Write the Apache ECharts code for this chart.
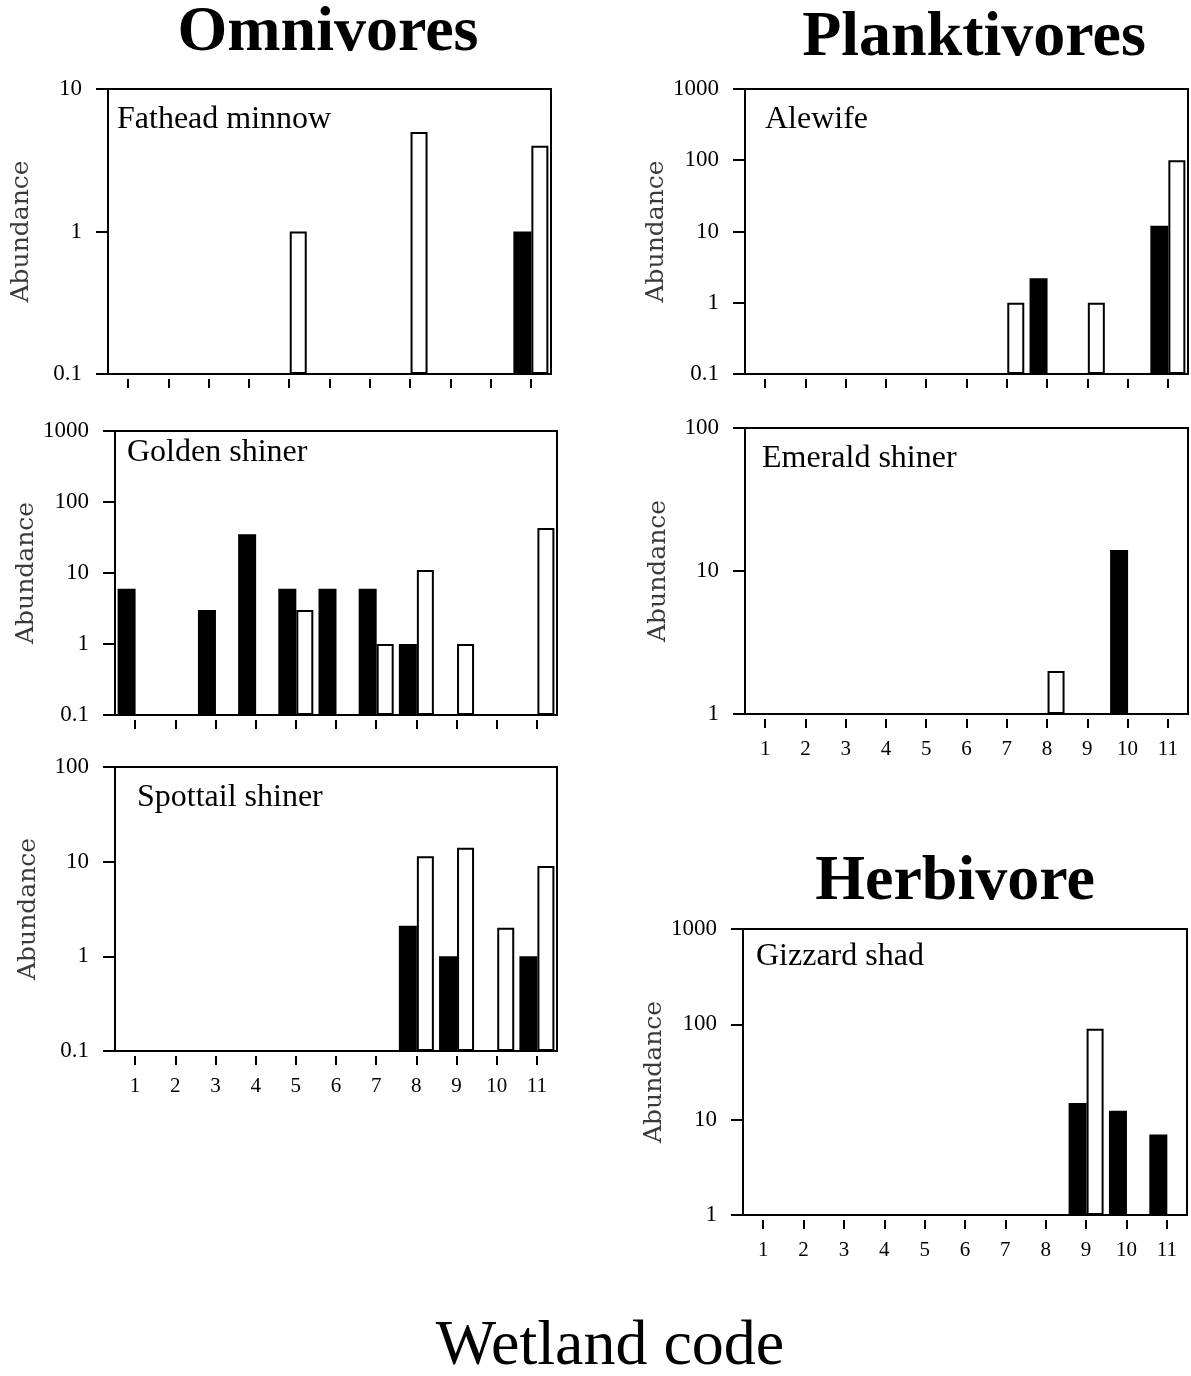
<!DOCTYPE html>
<html>
<head>
<meta charset="utf-8">
<title>Wetland fish abundance</title>
<script src="https://cdn.jsdelivr.net/npm/echarts@6/dist/echarts.min.js"></script>
<style>
  html, body { margin: 0; padding: 0; background: #fff; }
  #main { width: 1191px; height: 1376px; }
</style>
</head>
<body>
<div id="main"></div>
<script>
// wetland codes on the x axis
var wetlands = ['1', '2', '3', '4', '5', '6', '7', '8', '9', '10', '11'];

// values (null = no bar); black = filled bars, white = open bars
var fatheadBlack = [null, null, null, null, null, null, null, null, null, null, 1];
var fatheadWhite = [null, null, null, null, 1, null, null, 5, null, null, 4];
var fatheadTicks = [0.1, 1, 10];

var alewifeBlack = [null, null, null, null, null, null, null, 2.2, null, null, 12];
var alewifeWhite = [null, null, null, null, null, null, 1, null, 1, null, 100];
var alewifeTicks = [0.1, 1, 10, 100, 1000];

var goldenBlack = [6, null, 3, 35, 6, 6, 6, 1, null, null, null];
var goldenWhite = [null, null, null, null, 3, null, 1, 11, 1, null, 43];
var goldenTicks = [0.1, 1, 10, 100, 1000];

var emeraldBlack = [null, null, null, null, null, null, null, null, null, 14, null];
var emeraldWhite = [null, null, null, null, null, null, null, 2, null, null, null];
var emeraldTicks = [1, 10, 100];

var spottailBlack = [null, null, null, null, null, null, null, 2.1, 1, null, 1];
var spottailWhite = [null, null, null, null, null, null, null, 11.4, 14, 2, 9];
var spottailTicks = [0.1, 1, 10, 100];

var gizzardBlack = [null, null, null, null, null, null, null, null, 15, 12.4, 7];
var gizzardWhite = [null, null, null, null, null, null, null, null, 90, null, null];
var gizzardTicks = [1, 10, 100, 1000];

var chart = echarts.init(document.getElementById('main'));

var serif = '"Liberation Serif", "Times New Roman", serif';

// one entry per panel: box = [left, top, width, height]
var panels = [
  { name: 'Fathead minnow', black: fatheadBlack, white: fatheadWhite, ticks: fatheadTicks, box: [108, 89, 443, 285], label: [117, 120], xLabels: false },
  { name: 'Alewife', black: alewifeBlack, white: alewifeWhite, ticks: alewifeTicks, box: [745, 89, 443, 285], label: [765, 120], xLabels: false },
  { name: 'Golden shiner', black: goldenBlack, white: goldenWhite, ticks: goldenTicks, box: [115, 431, 442, 284], label: [127, 453], xLabels: false },
  { name: 'Emerald shiner', black: emeraldBlack, white: emeraldWhite, ticks: emeraldTicks, box: [745, 428, 443, 286], label: [762, 459], xLabels: true },
  { name: 'Spottail shiner', black: spottailBlack, white: spottailWhite, ticks: spottailTicks, box: [115, 767, 442, 284], label: [137, 798], xLabels: true },
  { name: 'Gizzard shad', black: gizzardBlack, white: gizzardWhite, ticks: gizzardTicks, box: [743, 929, 444, 286], label: [756, 957], xLabels: true }
];

var grid = [], xAxis = [], yAxis = [], series = [];
var graphic = [
  { type: 'text', style: { x: 328, y: 33, text: 'Omnivores', font: 'bold 64px ' + serif, fill: '#000', align: 'center', verticalAlign: 'middle' } },
  { type: 'text', style: { x: 974, y: 38, text: 'Planktivores', font: 'bold 64px ' + serif, fill: '#000', align: 'center', verticalAlign: 'middle' } },
  { type: 'text', style: { x: 955, y: 882, text: 'Herbivore', font: 'bold 64px ' + serif, fill: '#000', align: 'center', verticalAlign: 'middle' } },
  { type: 'text', style: { x: 610, y: 1347, text: 'Wetland code', font: '64px ' + serif, fill: '#000', align: 'center', verticalAlign: 'middle' } }
];

panels.forEach(function (p, i) {
  grid.push({
    left: p.box[0], top: p.box[1], width: p.box[2], height: p.box[3],
    show: true, borderColor: '#000', borderWidth: 2, backgroundColor: 'transparent'
  });
  xAxis.push({
    gridIndex: i, type: 'category', data: wetlands, offset: 5,
    axisLine: { show: false },
    axisTick: { show: true, alignWithLabel: true, length: 9, lineStyle: { color: '#000', width: 2 } },
    axisLabel: { show: p.xLabels, color: '#000', fontFamily: serif, fontSize: 21, margin: 20 },
    splitLine: { show: false }
  });
  yAxis.push({
    gridIndex: i, type: 'log', logBase: 10,
    min: p.ticks[0], max: p.ticks[p.ticks.length - 1], startValue: p.ticks[0],
    name: 'Abundance', nameLocation: 'middle', nameGap: 74, nameRotate: 90,
    nameTextStyle: { fontFamily: '"DejaVu Serif", serif', fontSize: 25, color: '#3a3a3a' },
    axisLine: { show: true, lineStyle: { color: '#000', width: 2 } },
    axisTick: { show: true, length: 12, lineStyle: { color: '#000', width: 2 } },
    axisLabel: {
      color: '#000', fontFamily: serif, fontSize: 23, margin: 26,
      formatter: function (v) { return String(+v.toPrecision(6)); }
    },
    splitLine: { show: false },
    minorTick: { show: false }
  });
  series.push({
    type: 'bar', name: p.name + ' black', xAxisIndex: i, yAxisIndex: i,
    data: p.black, barWidth: 18, barGap: '0%',
    itemStyle: { color: '#000' }, silent: true
  });
  series.push({
    type: 'bar', name: p.name + ' white', xAxisIndex: i, yAxisIndex: i,
    data: p.white, barWidth: 17, barGap: '0%',
    itemStyle: { color: '#fff', borderColor: '#000', borderWidth: 2 }, silent: true
  });
  graphic.push({
    type: 'text',
    style: { x: p.label[0], y: p.label[1], text: p.name, font: '32px ' + serif, fill: '#000', align: 'left', verticalAlign: 'middle' }
  });
});

chart.setOption({
  animation: false,
  backgroundColor: '#fff',
  grid: grid,
  xAxis: xAxis,
  yAxis: yAxis,
  series: series,
  graphic: graphic
});
</script>
</body>
</html>
